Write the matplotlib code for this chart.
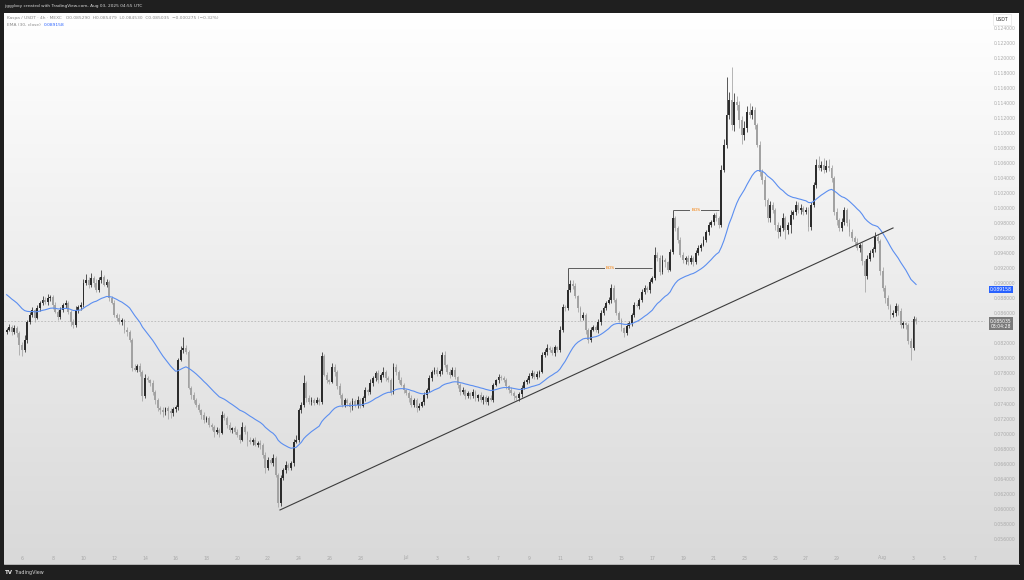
import numpy as np
import pandas as pd
import matplotlib
matplotlib.use('Agg')
import matplotlib.pyplot as plt
from matplotlib import transforms
from matplotlib.colors import LinearSegmentedColormap

plt.rcParams['font.family'] = ['DejaVu Sans']

W, H = 1024, 580

# KAS/USDT 4h candles starting 2025-06-05 00:00, prices in units of 0.0001 USDT
closes = [
    838, 842, 835, 840, 834, 818, 811, 825, 848, 858, 864, 854, 867, 874, 878, 875, 880, 882, 871, 862, 855, 864, 871, 874, 862, 848, 844, 864, 868, 871,
    900, 904, 898, 907, 900, 891, 904, 908, 898, 902, 880, 874, 858, 854, 848, 851, 838, 835, 825, 787, 785, 790, 782, 750, 774, 771, 767, 755, 745, 734,
    731, 729, 734, 730, 727, 733, 735, 798, 811, 814, 809, 761, 751, 745, 738, 731, 725, 718, 721, 711, 709, 702, 705, 701, 725, 721, 711, 705, 707, 702,
    698, 692, 709, 702, 692, 689, 692, 685, 688, 685, 672, 654, 665, 661, 668, 645, 608, 641, 652, 658, 654, 661, 689, 692, 731, 738, 767, 747, 742, 745,
    741, 745, 742, 803, 778, 771, 769, 789, 782, 763, 751, 738, 745, 741, 735, 743, 738, 745, 737, 747, 758, 755, 767, 774, 781, 771, 778, 782, 774, 771,
    755, 789, 782, 771, 765, 758, 754, 747, 738, 745, 734, 737, 742, 751, 758, 774, 782, 785, 779, 783, 805, 791, 782, 778, 785, 775, 765, 755, 758, 750,
    754, 750, 755, 747, 751, 745, 749, 742, 747, 745, 765, 771, 775, 774, 771, 763, 758, 754, 750, 747, 753, 761, 769, 771, 777, 781, 775, 779, 782, 805,
    809, 814, 811, 807, 815, 811, 838, 868, 867, 891, 899, 896, 883, 867, 854, 858, 838, 825, 838, 842, 838, 848, 860, 867, 874, 878, 894, 878, 860, 851,
    840, 834, 843, 847, 858, 871, 870, 878, 888, 894, 891, 902, 907, 938, 934, 915, 931, 928, 918, 942, 987, 974, 958, 938, 931, 934, 928, 934, 928, 940,
    947, 951, 958, 968, 977, 981, 991, 987, 977, 1051, 1084, 1124, 1144, 1110, 1141, 1137, 1117, 1097, 1106, 1128, 1124, 1130, 1110, 1084, 1048, 1037, 1011, 987, 1004, 997,
    977, 968, 974, 987, 971, 977, 991, 995, 1004, 997, 1000, 995, 997, 975, 1004, 1031, 1057, 1053, 1057, 1051, 1056, 1053, 1040, 995, 984, 974, 981, 997, 980, 968,
    960, 955, 947, 951, 929, 909, 932, 940, 945, 962, 956, 916, 894, 880, 870, 858, 860, 870, 863, 844, 847, 844, 823, 814, 852.9, 850.35,
]
wick_up = [
    3, 4, 2, 5, 3, 2, 4, 6, 3, 4, 5, 2, 4, 3, 5, 4, 6, 3, 2, 4, 3, 5, 3, 4, 2, 3, 4, 6, 3, 4,
    5, 8, 4, 6, 3, 5, 4, 10, 3, 4, 2, 3, 4, 2, 5, 3, 2, 4, 3, 2, 6, 3, 4, 2, 5, 3, 2, 4, 3, 2,
    3, 4, 2, 3, 4, 2, 3, 3, 6, 15, 4, 2, 3, 4, 2, 3, 2, 4, 3, 2, 3, 2, 4, 3, 5, 2, 3, 4, 2, 3,
    4, 2, 7, 3, 2, 3, 2, 4, 2, 3, 2, 3, 4, 2, 5, 2, 3, 4, 2, 5, 3, 2, 4, 6, 3, 4, 11, 3, 5, 4,
    3, 4, 2, 6, 3, 4, 2, 5, 3, 2, 4, 3, 2, 3, 2, 4, 3, 5, 2, 3, 4, 2, 5, 3, 2, 4, 3, 6, 3, 2,
    3, 5, 3, 2, 4, 3, 2, 3, 4, 2, 3, 4, 2, 5, 3, 4, 2, 3, 4, 3, 4, 5, 2, 4, 3, 4, 2, 3, 4, 2,
    3, 2, 4, 3, 2, 4, 3, 2, 3, 4, 3, 2, 4, 3, 2, 3, 2, 4, 3, 2, 3, 4, 2, 3, 4, 3, 2, 4, 3, 4,
    3, 5, 2, 4, 3, 2, 5, 4, 3, 29, 5, 5, 4, 2, 3, 4, 2, 3, 4, 2, 3, 5, 4, 3, 2, 4, 5, 3, 2, 3,
    3, 2, 4, 3, 2, 4, 3, 2, 5, 3, 2, 4, 3, 10, 4, 3, 6, 3, 2, 4, 11, 3, 2, 4, 3, 2, 3, 4, 2, 4,
    4, 3, 5, 3, 4, 3, 2, 4, 3, 6, 8, 50, 10, 44, 12, 8, 6, 5, 10, 8, 12, 6, 5, 3, 5, 4, 6, 3, 5, 4,
    3, 5, 4, 6, 3, 4, 6, 3, 5, 4, 6, 3, 4, 5, 4, 3, 8, 12, 6, 10, 8, 9, 4, 3, 5, 3, 6, 4, 3, 5,
    4, 3, 5, 3, 4, 3, 5, 4, 3, 6, 4, 3, 5, 3, 4, 3, 5, 4, 3, 4, 3, 2, 3, 4, 4, 1.9,
]
wick_dn = [
    3, 2, 4, 3, 5, 13, 8, 3, 4, 2, 3, 5, 2, 4, 3, 2, 4, 3, 5, 2, 4, 3, 2, 4, 3, 5, 3, 2, 4, 3,
    3, 2, 4, 3, 5, 2, 3, 4, 2, 3, 4, 2, 3, 4, 2, 3, 4, 5, 3, 4, 2, 3, 5, 6, 3, 2, 4, 3, 5, 4,
    5, 7, 4, 10, 6, 3, 4, 3, 2, 4, 3, 2, 5, 4, 3, 2, 5, 4, 3, 2, 4, 6, 3, 5, 2, 3, 4, 3, 4, 2,
    3, 4, 2, 3, 8, 3, 4, 2, 3, 5, 4, 6, 3, 2, 4, 3, 5, 4, 3, 5, 2, 3, 4, 2, 3, 4, 2, 5, 3, 4,
    3, 2, 4, 3, 2, 4, 3, 2, 5, 3, 4, 2, 3, 4, 6, 3, 2, 4, 3, 2, 3, 4, 2, 3, 4, 3, 2, 3, 4, 2,
    3, 2, 4, 3, 2, 4, 3, 5, 2, 3, 5, 3, 2, 4, 3, 2, 4, 3, 2, 3, 4, 2, 3, 4, 2, 3, 4, 3, 2, 4,
    3, 4, 2, 3, 4, 3, 6, 3, 4, 2, 3, 2, 4, 3, 2, 3, 4, 3, 5, 2, 3, 4, 2, 3, 4, 3, 2, 3, 4, 2,
    3, 4, 2, 3, 4, 3, 2, 3, 4, 2, 3, 4, 3, 5, 4, 3, 6, 4, 3, 2, 3, 4, 3, 2, 3, 2, 4, 3, 2, 3,
    4, 5, 3, 2, 4, 3, 2, 4, 3, 2, 3, 4, 2, 3, 5, 4, 3, 6, 3, 2, 3, 4, 5, 3, 4, 6, 4, 3, 5, 3,
    3, 4, 2, 3, 4, 2, 3, 4, 3, 2, 3, 4, 5, 6, 8, 6, 10, 12, 6, 5, 4, 6, 5, 3, 6, 5, 8, 6, 5, 4,
    6, 8, 5, 4, 12, 6, 10, 5, 4, 3, 5, 4, 3, 6, 4, 3, 4, 3, 4, 5, 3, 4, 5, 4, 6, 5, 4, 3, 4, 5,
    4, 5, 3, 6, 5, 20, 4, 3, 5, 4, 3, 5, 4, 6, 4, 5, 3, 4, 5, 4, 3, 5, 4, 16, 3, 5.05,
]
first_open = 835
ema_seed = 888  # EMA(30) just before the first visible candle

start = pd.Timestamp('2025-06-05 00:00')
ema_label = '0.089158'
last_label = '0.085035'
countdown = '03:04:28'
last_price = 0.085035

# drawings on the chart (candle index, price)
trend_idx = [106.7, 346.0]
trend_px = [0.05985, 0.09735]
bos_level = [0.0920, 0.0997]
bos_from = [219, 260]
bos_to = [252, 278]

date_ticks = ['2025-06-06', '2025-06-08', '2025-06-10', '2025-06-12', '2025-06-14', '2025-06-16',
              '2025-06-18', '2025-06-20', '2025-06-22', '2025-06-24', '2025-06-26', '2025-06-28',
              '2025-07-01', '2025-07-03', '2025-07-05', '2025-07-07', '2025-07-09', '2025-07-11',
              '2025-07-13', '2025-07-15', '2025-07-17', '2025-07-19', '2025-07-21', '2025-07-23',
              '2025-07-25', '2025-07-27', '2025-07-29', '2025-08-01', '2025-08-03', '2025-08-05',
              '2025-08-07']
date_labels = ['6', '8', '10', '12', '14', '16', '18', '20', '22', '24', '26', '28',
               'Jul', '3', '5', '7', '9', '11', '13', '15', '17', '19', '21', '23', '25', '27', '29',
               'Aug', '3', '5', '7']

header = ('Kaspa / USDT \u00b7 4h \u00b7 MEXC   O0.085290  H0.085479  L0.084530  '
          'C0.085035  \u22120.000275 (\u22120.32%)')
top_note = 'jiggyboy created with TradingView.com, Aug 03, 2025 04:55 UTC'

# ---- data prep
c = np.array(closes, dtype=float) * 1e-4
o = np.r_[first_open, closes[:-1]] * 1e-4
hi = np.maximum(o, c) + np.array(wick_up) * 1e-4
lo = np.minimum(o, c) - np.array(wick_dn) * 1e-4
x = np.arange(len(c))
ema = pd.Series(np.r_[ema_seed, closes] * 1e-4).ewm(span=30, adjust=False).mean().values[1:]

# ---- figure and background
fig = plt.figure(figsize=(W / 100, H / 100), dpi=100)
fig.patch.set_facecolor('#1f1f1f')
bg = fig.add_axes([0, 0, 1, 1], zorder=0)
bg.set_xlim(0, W)
bg.set_ylim(H, 0)
bg.axis('off')
cmap = LinearSegmentedColormap.from_list('panel', ['#ffffff', '#d9d9d9'])
bg.imshow(np.linspace(0, 1, 256)[:, None], aspect='auto', cmap=cmap,
          extent=(4, 1019, 564, 13), interpolation='bilinear')
bg.plot([4, 1019], [564, 564], color='#cfcfcf', lw=0.6)


def panel_grey(ypx):
    v = (255 - (ypx - 13) / 551 * 38) / 255
    return (v, v, v)


ax = fig.add_axes([4 / W, (H - 564) / H, (985 - 4) / W, (564 - 13) / H], zorder=1)
ax.patch.set_alpha(0)
ax.set_xlim(-1.03, 381.9)
ax.set_ylim(0.052665, 0.125936)
for s in ax.spines.values():
    s.set_visible(False)
ax.set_xticks([])

# price scale on the right (the label under the last-price tag is hidden, as on TradingView)
ax.yaxis.tick_right()
yt = np.arange(0.056, 0.12401, 0.002)
ax.set_yticks(yt)
ax.set_yticklabels(['' if last_price - 0.0015 < v < last_price + 0.0005 else f'{v:.6f}' for v in yt])
ax.tick_params(axis='y', length=0, pad=6, labelsize=3.3, labelcolor='#ababab')

# last price dashed line
ax.axhline(last_price, color='#b8b8b8', lw=0.6, ls=(0, (2, 2)), zorder=2)

# candles
up = c >= o
col = np.where(up, '#2c2c2c', '#a2a2a2')
ax.vlines(x, lo, hi, colors=col, lw=0.55, zorder=3)
ax.bar(x, np.maximum(np.abs(c - o), 0.00006), bottom=np.minimum(o, c),
       width=0.74, color=col, lw=0, zorder=4)

# EMA 30
ax.plot(x, ema, color='#5b8ef0', lw=0.8, zorder=5)

# trend line
ax.plot(trend_idx, trend_px, color='#3c3c3c', lw=0.8, zorder=6)

# BOS lines
for lvl, a, b in zip(bos_level, bos_from, bos_to):
    ax.hlines(lvl, a, b, color='#5c5c5c', lw=0.7, zorder=6)
    ypx = (1276.65 - lvl * 1e4) / 1.3298
    ax.text((a + b) / 2, lvl, 'BOS', color='#f57c00', fontsize=3.2, ha='center', va='center',
            zorder=7, bbox=dict(boxstyle='square,pad=0.2', fc=panel_grey(ypx), ec='none'))

# date labels
dt = transforms.blended_transform_factory(ax.transData, fig.transFigure)
for d, lab in zip(date_ticks, date_labels):
    pos = (pd.Timestamp(d) - start) / pd.Timedelta('4h')
    ax.text(pos, 1 - 558 / H, lab, transform=dt, ha='center', va='center',
            fontsize=3.3, color='#a8a8a8', clip_on=False)

# price tags on the scale
bt = transforms.blended_transform_factory(fig.transFigure, ax.transData)
ax.text(1001 / W, float(ema_label), ema_label, transform=bt, ha='center', va='center',
        fontsize=3.3, color='white', clip_on=False, zorder=10,
        bbox=dict(boxstyle='square,pad=0.22', fc='#2962ff', ec='none'))
ax.annotate(last_label + '\n' + countdown, xy=(1001 / W, last_price), xycoords=bt,
            xytext=(0, -2.4), textcoords='offset points', ha='center', va='center',
            fontsize=3.3, color='white', linespacing=1.15, annotation_clip=False, zorder=10,
            bbox=dict(boxstyle='square,pad=0.25', fc='#7a7a7a', ec='none'))

fig.text(1002 / W, 1 - 19.5 / H, 'USDT', fontsize=3.3, color='#333333', ha='center',
         va='center', bbox=dict(boxstyle='square,pad=0.6', fc='white', ec='#dedede', lw=0.4))

# header texts
fig.text(4 / W, 1 - 6 / H, top_note, fontsize=3.1, color='#d8d8d8', va='center')
fig.text(7 / W, 1 - 17.5 / H, header, fontsize=3.2, color='#8a8a8a', va='center')
t2 = fig.text(7 / W, 1 - 25 / H, 'EMA (30, close)', fontsize=3.2, color='#8a8a8a', va='center')
bg.annotate(ema_label, xy=(1, 0.5), xycoords=t2, xytext=(2, 0), textcoords='offset points',
            fontsize=3.2, color='#2962ff', va='center')

# footer logo
fig.text(5 / W, 1 - 572.5 / H, 'TV', fontsize=4, fontweight='bold', color='#e8e8e8', va='center')
fig.text(14 / W, 1 - 572.5 / H, 'TradingView', fontsize=3.5, color='#d4d4d4', va='center')

fig.savefig('out.png', dpi=100, facecolor=fig.get_facecolor())
plt.close(fig)
